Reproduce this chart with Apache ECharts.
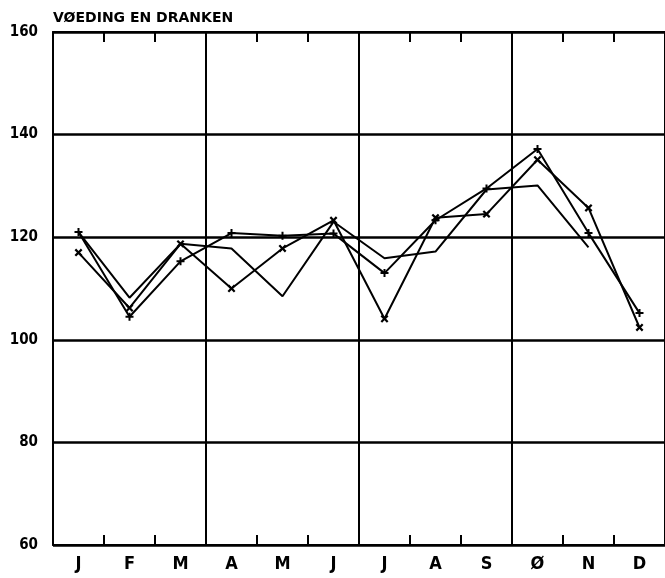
<!DOCTYPE html>
<html><head><meta charset="utf-8">
<script src="https://cdn.jsdelivr.net/npm/echarts@6/dist/echarts.min.js"></script>
<style>html,body{margin:0;padding:0;background:#fff}#c{width:665px;height:578px}</style>
</head><body><div id="c"></div>
<script>
const titleText = 'VØEDING EN DRANKEN';
const months = ['J','F','M','A','M','J','J','A','S','Ø','N','D'];
const yMin = 60, yMax = 160, yStep = 20;
const quarterStarts = [3, 6, 9];
const seriesPlus  = [121.0,104.5,115.3,120.8,120.3,120.7,113.0,123.3,129.5,137.2,120.8,105.2];
const seriesCross = [117.0,106.2,118.7,110.0,117.8,123.3,104.1,123.8,124.5,135.1,125.7,102.4];
const seriesPlain = [121.0,108.2,118.7,117.8,108.5,123.0,115.9,117.2,129.3,130.1,118.0,null];

const FONT = '"DejaVu Sans Condensed", "DejaVu Sans", sans-serif';
const plusPath = 'path://M3,0H5V3H8V5H5V8H3V5H0V3H3Z';
const chart = echarts.init(document.getElementById('c'), null, {renderer:'canvas'});
const lineStyle = {color:'#000', width:2};
chart.setOption({
  animation:false,
  backgroundColor:'#fff',
  title:{text:titleText, left:53, top:11, padding:0,
    textStyle:{fontFamily:'"DejaVu Sans", sans-serif', fontWeight:'bold', fontSize:14, color:'#000'}},
  grid:{left:53, top:32, width:616, height:513, containLabel:false},
  xAxis:[{
    type:'category', data:months, boundaryGap:true, position:'bottom',
    axisLine:{show:true, lineStyle:{color:'#000', width:2}},
    axisTick:{show:true, inside:true, length:10, interval:0, lineStyle:{color:'#000', width:2}},
    axisLabel:{interval:0, margin:10, fontFamily:FONT, fontWeight:'bold', fontSize:18, color:'#000'},
    splitLine:{show:true, interval:function(i){return quarterStarts.indexOf(i)>=0;}, lineStyle:{color:'#000', width:2}}
  },{
    type:'category', data:months, boundaryGap:true, position:'top',
    axisLine:{show:true, lineStyle:{color:'#000', width:2}},
    axisTick:{show:true, inside:true, length:10, interval:0, lineStyle:{color:'#000', width:2}},
    axisLabel:{show:false}, splitLine:{show:false}
  }],
  yAxis:{
    type:'value', min:yMin, max:yMax, interval:yStep,
    axisLine:{show:true, lineStyle:{color:'#000', width:2}},
    axisTick:{show:false},
    axisLabel:{margin:15, fontFamily:FONT, fontWeight:'bold', fontSize:15, color:'#000'},
    splitLine:{show:true, lineStyle:{color:'#000', width:2.5}}
  },
  series:[
    {type:'line', data:seriesPlain, showSymbol:false, symbol:'none', lineStyle:lineStyle, z:3},
    {type:'line', data:seriesCross, symbol:plusPath, symbolSize:9, symbolRotate:45, showAllSymbol:true,
     itemStyle:{color:'#000', borderWidth:0}, lineStyle:lineStyle, z:4},
    {type:'line', data:seriesPlus, symbol:plusPath, symbolSize:8, showAllSymbol:true,
     itemStyle:{color:'#000', borderWidth:0}, lineStyle:lineStyle, z:5}
  ]
});
</script></body></html>
